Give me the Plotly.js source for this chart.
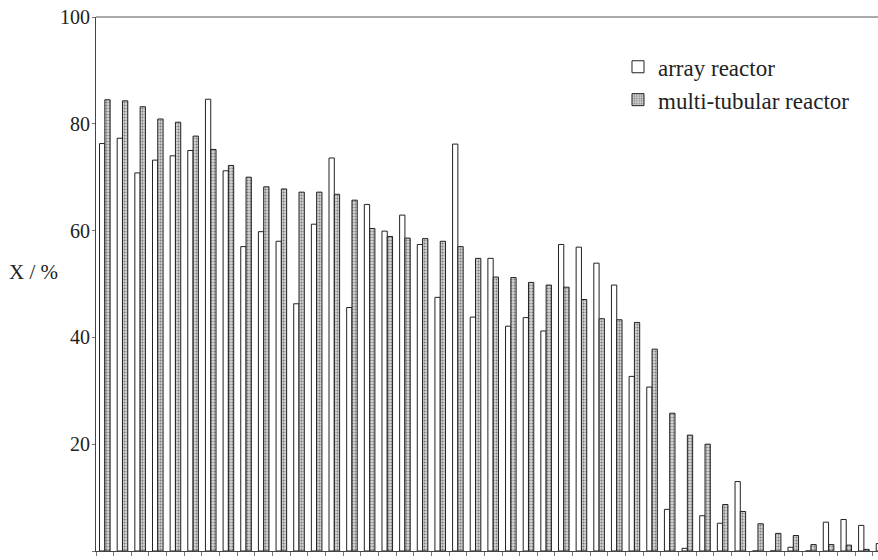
<!DOCTYPE html>
<html><head><meta charset="utf-8">
<script src="https://cdn.plot.ly/plotly-3.0.1.min.js"></script>
<style>html,body{margin:0;padding:0;overflow:hidden;background:#fff}</style>
</head><body><div id="chart" style="width:878px;height:560px"></div>
<script>
const categories = Array.from({length: 45}, (_, i) => String(i + 1));
const seriesNames = ['array reactor', 'multi-tubular reactor'];
const arrayReactor = [76.3, 77.3, 70.8, 73.2, 74.0, 75.0, 84.6, 71.2, 57.0, 59.8,
  58.0, 46.3, 61.2, 73.6, 45.6, 64.9, 59.9, 62.9, 57.4, 47.5,
  76.2, 43.8, 54.8, 42.1, 43.7, 41.2, 57.4, 56.9, 53.9, 49.8,
  32.7, 30.7, 7.8, 0.5, 6.6, 5.2, 13.0, 0, 0, 0.7,
  0, 5.4, 5.9, 4.8, 1.4];
const multiTubular = [84.5, 84.3, 83.2, 80.9, 80.3, 77.7, 75.2, 72.2, 70.0, 68.2,
  67.8, 67.2, 67.2, 66.8, 65.7, 60.4, 58.9, 58.6, 58.5, 58.0,
  57.0, 54.8, 51.3, 51.2, 50.3, 49.8, 49.4, 47.1, 43.5, 43.3,
  42.8, 37.8, 25.8, 21.7, 20.0, 8.7, 7.4, 5.1, 3.3, 2.9,
  1.2, 1.2, 1.1, 0.3, 0.3];
const yTicks = [0, 20, 40, 60, 80, 100];

const serif = 'Liberation Serif';
const traces = [
  {type: 'bar', name: seriesNames[0], x: categories, y: arrayReactor,
   marker: {color: '#ffffff', line: {color: '#222', width: 1}}},
  {type: 'bar', name: seriesNames[1], x: categories, y: multiTubular,
   marker: {color: '#c4c4c4', line: {color: '#222', width: 1},
            pattern: {shape: '.', fgcolor: '#7a7a7a', bgcolor: '#d4d4d4', size: 3, solidity: 0.35, fillmode: 'replace'}}}
];
const layout = {
  width: 878, height: 560,
  font: {family: serif, color: '#222', size: 20},
  margin: {l: 96, r: 0, t: 17, b: 9},
  paper_bgcolor: '#fff', plot_bgcolor: '#fff',
  barmode: 'group', bargap: 0.4, bargroupgap: 0,
  showlegend: true,
  legend: {x: 0.6675, y: 0.947, xanchor: 'left', yanchor: 'top',
           font: {family: serif, size: 23, color: '#222'}, bgcolor: 'rgba(0,0,0,0)',
           itemwidth: 30, tracegroupgap: 0},
  xaxis: {type: 'category', range: [-0.5, 43.8], showticklabels: false,
          ticks: 'outside', tickson: 'boundaries', ticklen: 4, tickcolor: '#777', tickwidth: 1,
          showline: true, linecolor: '#444', linewidth: 1, showgrid: false, zeroline: false,
          mirror: false},
  yaxis: {range: [0, 100], tickvals: yTicks, ticktext: yTicks.map(String),
          ticks: 'outside', ticklen: 3, tickcolor: '#777', showline: true, linecolor: '#444',
          showgrid: false, zeroline: false, ticklabelstandoff: -2,
          tickfont: {family: serif, size: 20, color: '#222'}},
  shapes: [{type: 'line', xref: 'paper', yref: 'paper', x0: 0, x1: 1, y0: 1, y1: 1,
            line: {color: '#555', width: 1}}],
  annotations: [{text: 'X / %', xref: 'paper', yref: 'y', x: -0.046, y: 52.3,
                 xanchor: 'right', yanchor: 'middle', showarrow: false,
                 font: {family: serif, size: 21, color: '#222'}}]
};
Plotly.newPlot('chart', traces, layout, {displayModeBar: false, staticPlot: true});
</script></body></html>
